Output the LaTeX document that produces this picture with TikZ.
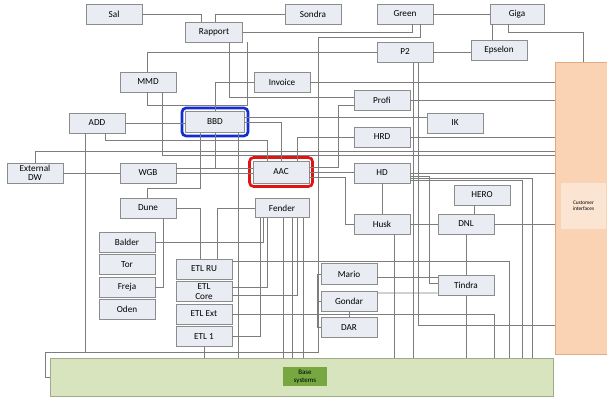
\documentclass[tikz,border=0pt]{standalone}
\usepackage{fontspec}
\setmainfont{Carlito}
\usepackage{tikz}
\usetikzlibrary{positioning,calc,fit}
\definecolor{boxfill}{RGB}{233,237,243}
\definecolor{boxline}{RGB}{140,140,140}
\definecolor{wirecol}{RGB}{125,125,125}
\definecolor{hlblue}{RGB}{20,45,210}
\definecolor{hlred}{RGB}{225,20,20}
\definecolor{cifill}{RGB}{250,211,181}
\definecolor{cilight}{RGB}{252,228,210}
\definecolor{cidraw}{RGB}{225,170,130}
\definecolor{basefill}{RGB}{216,228,190}
\definecolor{basedraw}{RGB}{160,170,140}
\definecolor{basedark}{RGB}{118,167,64}

\begin{document}
\begin{tikzpicture}[x=0.75pt, y=-0.75pt,
  box/.style={draw=boxline, fill=boxfill, minimum width=42pt, minimum height=15pt, inner sep=1pt, align=center, font=\fontsize{6.9}{6.9}\selectfont},
  wire/.style={draw=wirecol, line width=0.6pt},
  hiliteblue/.style={draw=hlblue, line width=2pt, rounded corners=3pt, inner sep=2.4pt},
  hilitered/.style={draw=hlred, line width=2pt, rounded corners=3pt, inner sep=2.4pt},
  cibox/.style={draw=cidraw, fill=cifill, minimum width=39pt, minimum height=219pt, inner sep=0pt},
  basebox/.style={draw=basedraw, fill=basefill, minimum width=377.25pt, minimum height=28.5pt, inner sep=0pt}
]
\useasboundingbox (0,0) rectangle (607,399);

% big blocks
\node[cibox] (ci) at (581,208) {};
\node[fill=cilight, minimum width=33.75pt, minimum height=34.5pt, inner sep=0pt, align=center, font=\fontsize{4}{4.6}\selectfont] (cilabel) at (583.5,206) {Customer\\interfaces};
\node[basebox] (base) at (301.5,377) {};
\node[fill=basedark, minimum width=33pt, minimum height=14.25pt, inner sep=0pt, align=center, font=\fontsize{5.2}{5.8}\selectfont] (baselabel) at (305,376.5) {Base\\systems};

% top row
\node[box] (sal) at (114,14) {Sal};
\node[box, minimum width=42.75pt] (rapport) at (214,32) {Rapport};
\node[box] (sondra) at (313,14) {Sondra};
\node[box] (green) at (405,14) {Green};
\node[box, minimum width=40.5pt] (giga) at (517,14) {Giga};
\node[box] (ptwo) at (405,52) {P2};
\node[box] (epselon) at (499,50) {Epselon};
\node[box] (mmd) at (148,82) {MMD};
\node[box] (invoice) at (282,82) {Invoice};
\node[box] (profi) at (382,100) {Profi};

% middle
\node[box] (add) at (97,123) {ADD};
\node[box, minimum width=44.25pt, minimum height=15.75pt] (bbd) at (215,122) {BBD};
\node[box] (ik) at (455,123) {IK};
\node[box] (hrd) at (382,137) {HRD};
\node[box] (extdw) at (35,173) {External\\DW};
\node[box] (wgb) at (148,173) {WGB};
\node[box, minimum height=16.5pt] (aac) at (281,172) {AAC};
\node[box] (hd) at (382,173) {HD};
\node[box] (hero) at (482,195) {HERO};
\node[box] (dnl) at (466,224) {DNL};
\node[box] (husk) at (382,224) {Husk};
\node[box] (dune) at (148,208) {Dune};
\node[box, minimum width=40.5pt, minimum height=14.25pt] (fender) at (282,208) {Fender};
\node[hiliteblue, fit=(bbd)] (bbdmark) {};
\node[hilitered, fit=(aac)] (aacmark) {};

% lower left stacks
\node[box] (balder) at (127,242) {Balder};
\node[box, below=1.5pt of balder] (tor) {Tor};
\node[box, below=1.5pt of tor] (freja) {Freja};
\node[box, below=1.5pt of freja] (oden) {Oden};
\node[box] (etlru) at (204,269) {ETL RU};
\node[box, below=1.5pt of etlru] (etlcore) {ETL\\Core};
\node[box, below=1.5pt of etlcore] (etlext) {ETL Ext};
\node[box, below=1.5pt of etlext] (etlone) {ETL 1};
\node[box, minimum height=15.75pt] (mario) at (349,274) {Mario};
\node[box, minimum height=15pt, below=4.5pt of mario] (gondar) {Gondar};
\node[box, minimum height=15pt, below=4.5pt of gondar] (dar) {DAR};
\node[box] (tindra) at (466,285) {Tindra};
\coordinate (bus) at (45,352);

% top connectors
\draw[wire] (sal.east) -| ($(rapport.north)+(-13,0)$);
\draw[wire] (sondra.west) -| ($(rapport.north)+(1,0)$);
\draw[wire] (green) -- (giga);
\draw[wire] (rapport.east) -| ($(green.south)+(7,0)$);
\draw[wire] ($(green.south)+(15,0)$) |- (318,37) -- (318,352) -- (bus) |- (base.west);
\draw[wire] ($(giga.south)+(-25,0)$) -- ($(epselon.north)+(-7,0)$);
\draw[wire] ($(giga.south)+(-9,0)$) -- ++(0,8) -| ($(ci.north)+(2,0)$);
\draw[wire] (ptwo.east) -- (ptwo.east -| epselon.west);
\draw[wire] ($(mmd.north)+(-1,0)$) |- (ptwo.west);
\draw[wire] ($(rapport.south)+(15,0)$) |- ($(profi.west)+(0,-3)$);
\draw[wire] ($(mmd.south)+(-1,0)$) |- ($(rapport.south)+(33,63)$) -- ($(rapport.south)+(33,0)$);
\draw[wire] (invoice.west) -| (bbd.north);
\draw[wire] (invoice.east) -- (invoice.east -| ci.west);
\draw[wire] (profi.east) -- (profi.east -| ci.west);
\draw[wire] (hrd.east) -- (hrd.east -| ci.west);
\draw[wire] ($(ptwo.south)+(8,0)$) -- (base.north -| 413,0);
\draw[wire] ($(ptwo.south)+(13,0)$) |- ($(ci.west)+(0,117)$);

% middle connectors
\draw[wire] ($(bbd.east)+(0,-5)$) -- ($(ik.west)+(0,-6)$);
\draw[wire] (add.east) -- (add.east -| bbd.west);
\draw[wire] ($(add.south)+(8,0)$) |- ($(aac.north)+(-14,-20)$) -- ($(aac.north)+(-14,0)$);
\draw[wire] ($(add.south)+(-12,0)$) |- (bus);
\draw[wire] (extdw.east) -- (wgb.west);
\draw[wire] (extdw.north) |- ($(ci.west)+(0,-57)$);
\draw[wire] ($(mmd.south)+(14,0)$) |- ($(ci.west)+(0,-53)$);
\draw[wire] (wgb.east) -- (wgb.east -| aac.west);
\draw[wire] ($(wgb.east)+(0,-5)$) -- ($(aac.west)+(0,-4)$);
\draw[wire] (bbd.south) |- ($(wgb.east)+(0,-5)$);
\draw[wire] (bbd.east) -| (aac.north);
\draw[wire] ($(aac.north)+(16,0)$) |- (hrd.west);
\draw[wire] (aac.east) -- (aac.east -| hd.west);
\draw[wire] ($(aac.east)+(0,-5)$) -| ($(profi.west)+(-15,5)$) -- ($(profi.west)+(0,5)$);
\draw[wire] ($(aac.east)+(0,5)$) -| ($(husk.west)+(-8,0)$) -- (husk.west);
\draw[wire] (hd.east) -- (hd.east -| ci.west);
\draw[wire] ($(hd.east)+(0,5)$) -| (base.north -| 532,0);
\draw[wire] ($(hd.east)+(0,7)$) -| (base.north -| 522,0);
\draw[wire] ($(hd.east)+(0,3)$) -| ($(tindra.west)+(-8,-2)$) -- ($(tindra.west)+(0,-2)$);
\draw[wire] (hd) -- (husk);
\draw[wire] (husk) -- (dnl);
\draw[wire] ($(hero.south)+(-8,0)$) -- ($(dnl.north)+(8,0)$);
\draw[wire] (dnl.east) -- (dnl.east -| ci.west);
\draw[wire] (dnl) -- (tindra);
\draw[wire] (tindra.south) -- (tindra.south |- base.north);
\draw[wire] ($(husk.south)+(12,0)$) -- (base.north -| 394,0);
\draw[wire] ($(bbd.south)+(23,0)$) -- (base.north -| 238,0);

% lower connectors
\draw[wire] ($(dune.north)+(-1,0)$) |- ($(bbd.south)+(-15,56)$) -- ($(bbd.south)+(-15,0)$);
\draw[wire] (dune.east) -| ($(etlru.north)+(-4,0)$);
\draw[wire] ($(dune.south)+(15,0)$) |- (freja.east);
\draw[wire] (fender.west) -| ($(etlru.north)+(13,0)$);
\draw[wire] (balder.east) -| ($(fender.south)+(-19,0)$);
\draw[wire] ($(etlcore.east)+(0,-4)$) -| ($(fender.south)+(-15,0)$);
\draw[wire] ($(etlcore.east)+(0,4)$) -| ($(fender.south)+(15,0)$);
\draw[wire] (etlone.east) -| ($(fender.south)+(-22,0)$);
\draw[wire] ($(fender.south)+(1,0)$) -- (base.north -| 283,0);
\draw[wire] ($(fender.south)+(10,0)$) -- (base.north -| 292,0);
\draw[wire] ($(fender.south)+(21,0)$) -- (base.north -| 303,0);
\draw[wire] ($(etlru.east)+(0,-8)$) -| (base.north -| 509,0);
\draw[wire] (etlext.east) -| (base.north -| 494,0);
\draw[wire] (etlone) -- (etlone |- base.north);
\draw[wire] (mario.west) -| ($(dar.west)+(-3,0)$) -- (dar.west);
\draw[wire] (gondar.west) -- ++(-3,0);
\draw[wire] (gondar) -- (dar);
\draw[wire] ($(mario.east)+(0,3)$) -- ($(tindra.west)+(0,-8)$);
\draw[wire] ($(gondar.east)+(0,-8)$) -- ($(tindra.west)+(0,8)$);
\end{tikzpicture}
\end{document}
